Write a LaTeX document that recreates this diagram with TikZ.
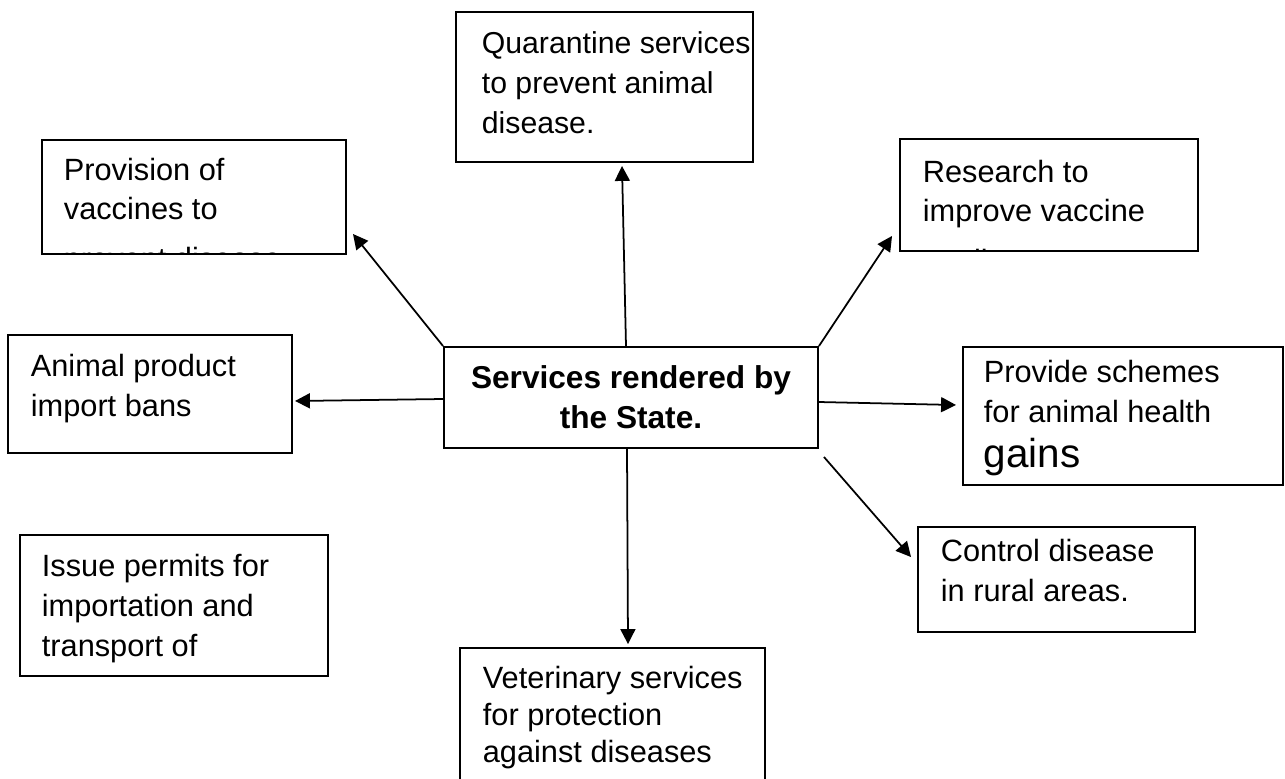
\documentclass[tikz,border=0pt]{standalone}
\usepackage{fontspec}
\setmainfont{Liberation Sans}
\usetikzlibrary{arrows.meta,fit}

\tikzset{
  box/.style={draw, line width=1.1pt, inner sep=0pt},
  txt/.style={anchor=base west, align=left, inner sep=0pt, font=\fontsize{17.5}{22.5}\selectfont},
}

\begin{document}
\begin{tikzpicture}[x=0.02cm, y=-0.02cm, >={Triangle[length=8.5pt,width=8.5pt]}, line width=1pt]
\useasboundingbox (0,0) rectangle (1285,778);

% the boxes
\node[box, fit={(444,347) (818,448)}] (state) {};
\node[box, fit={(456,12) (753,162)}] (quar) {};
\node[box, fit={(42,140) (346,254)}] (vacc) {};
\node[box, fit={(900,139) (1198,251)}] (res) {};
\node[box, fit={(8,335) (292,453)}] (bans) {};
\node[box, fit={(963,347) (1283,485)}] (schm) {};
\node[box, fit={(20,535) (328,676)}] (perm) {};
\node[box, fit={(918,527) (1195,632)}] (ctrl) {};
\node[box, fit={(460,648) (765,800)}] (vet) {};

% texts (placed at the baseline of their last line)
\node[align=center, inner sep=0pt, font=\fontsize{18}{22.7}\selectfont\bfseries] (state-t) at (state) {Services rendered by\\the State.};
\node[txt, font=\fontsize{17.2}{22.5}\selectfont] (quar-t) at (481,133) {Quarantine services\\to prevent animal\\disease.};
\begin{scope}
  \clip (vacc.south west) rectangle (vacc.north east);
  \node[txt] (vacc-t) at (63,269) {Provision of\\vaccines to\\[5.5pt]prevent disease};
\end{scope}
\begin{scope}
  \clip (res.south west) rectangle (res.north east);
  \node[txt] (res-t) at (922,271) {Research to\\improve vaccine\\[5.5pt]quality};
\end{scope}
\node[txt] (bans-t) at (30,416) {Animal product\\import bans};
\node[txt] (schm-t) at (983,467) {Provide schemes\\for animal health\\[3pt]{\fontsize{23}{26}\selectfont gains}};
\node[txt] (perm-t) at (41,656) {Issue permits for\\importation and\\transport of};
\node[txt] (ctrl-t) at (940,601) {Control disease\\in rural areas.};
\node[txt, font=\fontsize{17.5}{21}\selectfont] (vet-t) at (482,762) {Veterinary services\\for protection\\against diseases};

% arrows
\draw[->] ([shift={(-5,0)}]state.north) -- ([shift={(17.5,3)}]quar.south);
\draw[->] (state.north west) -- ([shift={(6,-21)}]vacc.south east);
\draw[->] (state.north east) -- ([shift={(-7,-16)}]res.south west);
\draw[->] ([shift={(0,1.5)}]state.west) -- ([shift={(2,7)}]bans.east);
\draw[->] ([shift={(0,4.5)}]state.east) -- ([shift={(-6,-11)}]schm.west);
\draw[->] ([shift={(5,8)}]state.south east) -- ([shift={(-6,31)}]ctrl.north west);
\draw[->] ([shift={(-4,0)}]state.south) -- ([shift={(15.5,-3)}]vet.north);
\end{tikzpicture}
\end{document}
